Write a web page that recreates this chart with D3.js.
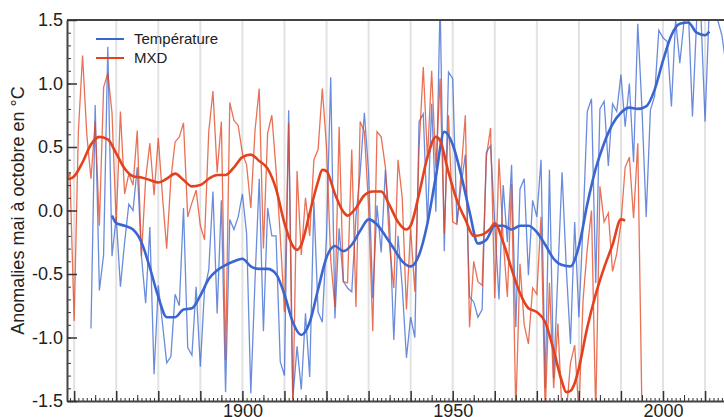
<!DOCTYPE html>
<html>
<head>
<meta charset="utf-8">
<title>Température / MXD</title>
<style>
    html, body { margin: 0; padding: 0; background: #fff; }
    text { font-family: "Liberation Sans", Arial, sans-serif; fill: #222; }
</style>
</head>
<body>
<script src="https://cdn.jsdelivr.net/npm/d3@7"></script>
<script>
// temperature, annual anomalies 1864-2015
var tempStart = 1864;
var tempValues = [
    -0.93, 0.83, -0.63, -0.35, 1.29, -0.36, -0.05, -0.6, -0.25, 0.05,
    0.0, 0.34, -0.36, -0.73, -0.13, -1.29, -0.59, -0.89, -1.2, -1.15,
    -0.66, -0.75, 0.02, -1.08, -1.14, -0.6, -1.23, -0.62, -0.47, 0.15,
    -0.81, 0.08, -1.43, -0.07, -0.15, -0.05, 0.13, -0.18, -1.44, -0.55,
    0.25, -0.95, 0.02, -0.2, -0.2, -1.19, -1.3, 0.79, -1.48, -1.07,
    -1.41, -0.81, -1.31, 0.07, -0.8, -0.88, -0.2, 1.05, -0.85, -0.14,
    -0.56, -0.61, -0.64, -0.05, 0.3, 0.77, 0.3, -0.69, 0.04, -0.33,
    0.32, -0.1, -1.02, -0.2, -0.6, -1.16, -0.84, -1.0, 0.7, 0.76,
    -0.1, 0.84, -0.01, 1.65, -0.32, 1.09, 1.04, -0.1, 0.2, 0.44,
    -0.68, -0.72, -0.84, -0.78, 0.46, 0.51, -0.1, -0.7, 0.2, -0.25,
    0.36, -0.92, 0.17, 0.25, -0.51, 0.08, -0.05, 0.4, -1.4, 0.32,
    -1.32, -0.5, 0.3, -0.45, -1.05, -0.09, -0.84, -0.1, 0.78, 0.88,
    -0.57, 0.8, 0.86, 0.35, 0.84, 0.78, 1.07, 0.66, 1.0, 0.38,
    1.47, 0.8, -0.05, 0.79, 0.9, 1.42, 1.36, 1.33, 0.82, 1.5,
    1.16, 1.49, 1.6, 0.74, 1.5, 1.55, 0.7, 1.6, 1.55, 1.5,
    1.38, 1.14
];

// MXD, annual anomalies 1858-1995
var mxdStart = 1858;
var mxdValues = [
    0.24, 0.29, -0.87, 0.62, 1.22, 0.6, 0.25, 0.7, -0.12, 0.97,
    1.08, 0.77, -0.1, 0.78, 0.13, 0.29, 0.2, 0.63, -0.36, 0.25,
    0.53, 0.12, 0.57, 0.11, -0.3, 0.25, 0.54, 0.58, 0.69, -0.05,
    0.06, 0.16, -0.12, -0.23, 0.62, 0.94, 0.3, 0.7, -1.18, 0.85,
    0.71, 0.67, 0.45, 0.36, 0.02, 0.63, 0.96, -0.3, 0.61, 0.75,
    0.32, -0.2, -0.8, 0.69, -1.6, 0.31, -0.35, 0.1, -0.2, 0.4,
    0.48, 0.96, 0.5, -0.39, -0.76, 0.66, -0.56, -0.57, 0.48, -0.76,
    0.7, 0.62, 0.03, -0.95, 0.62, 0.58, 0.34, -0.29, -0.61, 0.4,
    0.1, -0.78, -0.14, -0.64, 0.49, 1.13, 0.41, 1.1, 0.33, 1.04,
    -0.18, 0.75, -0.09, -0.11, 0.3, 0.75, -0.92, -0.4, -0.56, -0.59,
    0.42, 0.65, -0.69, 0.41, -0.23, -0.68, 0.21, -1.6, -0.42, -0.9,
    -1.05, -0.61, -0.66, -0.05, -1.6, -0.57, -1.4, -0.89, -1.6, -1.6,
    -1.2, -1.06, -1.6, -0.7, -0.3, 0.0, -1.6, 0.19, -0.09, -0.02,
    -0.48, -0.34, -0.1, 0.34, 0.42, -0.06, 0.53, -1.6
];

// smoothed curves
var tempSmoothYears = [1869, 1870, 1872, 1874, 1876, 1878, 1880, 1882, 1884, 1886,
    1888, 1890, 1892, 1894, 1896, 1898, 1900, 1902, 1904, 1906,
    1908, 1910, 1912, 1914, 1916, 1918, 1920, 1922, 1924, 1926,
    1928, 1930, 1932, 1934, 1936, 1938, 1940, 1942, 1944, 1946,
    1948, 1950, 1952, 1954, 1956, 1958, 1960, 1962, 1964, 1966,
    1968, 1970, 1972, 1974, 1976, 1978, 1980, 1982, 1984, 1986,
    1988, 1990, 1992, 1994, 1996, 1998, 2000, 2002, 2004, 2006,
    2008, 2010, 2011];
var tempSmooth = [-0.04, -0.1, -0.12, -0.15, -0.25, -0.45, -0.68, -0.84, -0.84, -0.78,
    -0.77, -0.67, -0.54, -0.47, -0.43, -0.4, -0.38, -0.44, -0.46, -0.46,
    -0.5, -0.66, -0.88, -0.98, -0.88, -0.62, -0.37, -0.28, -0.32, -0.27,
    -0.16, -0.07, -0.11, -0.2, -0.3, -0.4, -0.44, -0.35, -0.1, 0.27,
    0.62, 0.52, 0.28, -0.01, -0.26, -0.23, -0.12, -0.12, -0.15, -0.12,
    -0.12, -0.17, -0.27, -0.38, -0.43, -0.44, -0.28, 0.05, 0.33, 0.53,
    0.68, 0.77, 0.81, 0.8, 0.82, 0.95, 1.18, 1.38, 1.47, 1.48,
    1.4, 1.38, 1.41];

var mxdSmoothYears = [1858, 1859, 1860, 1862, 1864, 1866, 1868, 1870, 1872, 1874,
    1876, 1878, 1880, 1882, 1884, 1886, 1888, 1890, 1892, 1894,
    1896, 1898, 1900, 1902, 1904, 1906, 1908, 1910, 1912, 1913,
    1914, 1916, 1918, 1919, 1920, 1922, 1924, 1925, 1927, 1929,
    1931, 1933, 1935, 1937, 1939, 1940, 1942, 1944, 1946, 1947,
    1949, 1951, 1953, 1955, 1957, 1959, 1960, 1962, 1964, 1966,
    1968, 1970, 1972, 1974, 1976, 1977, 1978, 1979, 1980, 1982,
    1984, 1986, 1988, 1990, 1991];
var mxdSmooth = [0.25, 0.25, 0.27, 0.38, 0.52, 0.58, 0.56, 0.45, 0.33, 0.27,
    0.26, 0.24, 0.22, 0.25, 0.29, 0.24, 0.19, 0.2, 0.25, 0.28,
    0.28, 0.34, 0.42, 0.44, 0.39, 0.33, 0.17, -0.1, -0.28, -0.31,
    -0.27, -0.02, 0.23, 0.32, 0.31, 0.13, -0.01, -0.04, 0.02, 0.12,
    0.15, 0.15, 0.04, -0.09, -0.15, -0.12, 0.13, 0.42, 0.58, 0.55,
    0.3, 0.08, -0.07, -0.2, -0.19, -0.14, -0.1, -0.25, -0.46, -0.65,
    -0.77, -0.8, -0.88, -1.1, -1.35, -1.43, -1.42, -1.36, -1.24, -0.92,
    -0.66, -0.45, -0.27, -0.07, -0.08];

var yTicks = [-1.5, -1.0, -0.5, 0.0, 0.5, 1.0, 1.5];
var xLabelYears = [1900, 1950, 2000];
var seriesNames = ["Température", "MXD"];

var blue = "#3a66d0";
var red = "#e2421d";

var width = 724, height = 417;
var mLeft = 67, mTop = 20, mBottom = 401;

var svg = d3.select("body").append("svg")
    .attr("width", width)
    .attr("height", height);

var x = d3.scaleLinear().domain([1858.3, 2014.5]).range([mLeft, width]);
var y = d3.scaleLinear().domain([-1.5, 1.5]).range([mBottom, mTop]);

svg.append("defs").append("clipPath").attr("id", "plot")
    .append("rect")
    .attr("x", mLeft).attr("y", mTop)
    .attr("width", width - mLeft).attr("height", mBottom - mTop);

// decade grid
svg.append("g").selectAll("line")
    .data(d3.range(1860, 2015, 10))
    .enter().append("line")
    .attr("x1", d => x(d)).attr("x2", d => x(d))
    .attr("y1", mTop).attr("y2", mBottom)
    .attr("stroke", "#e2e2e2")
    .attr("stroke-width", 2);

function toPoints(start, vals) {
    return vals.map((v, i) => [start + i, v]);
}
function zip(years, vals) {
    return years.map((yr, i) => [yr, vals[i]]);
}

var line = d3.line().x(d => x(d[0])).y(d => y(d[1]));
var smoothLine = d3.line().x(d => x(d[0])).y(d => y(d[1])).curve(d3.curveMonotoneX);

var plot = svg.append("g").attr("clip-path", "url(#plot)");

plot.append("path")
    .datum(toPoints(tempStart, tempValues))
    .attr("d", line)
    .attr("fill", "none")
    .attr("stroke", blue)
    .attr("stroke-opacity", 0.75)
    .attr("stroke-width", 1.3);

plot.append("path")
    .datum(toPoints(mxdStart, mxdValues))
    .attr("d", line)
    .attr("fill", "none")
    .attr("stroke", red)
    .attr("stroke-opacity", 0.75)
    .attr("stroke-width", 1.3);

plot.append("path")
    .datum(zip(tempSmoothYears, tempSmooth))
    .attr("d", smoothLine)
    .attr("fill", "none")
    .attr("stroke", blue)
    .attr("stroke-width", 2.6);

plot.append("path")
    .datum(zip(mxdSmoothYears, mxdSmooth))
    .attr("d", smoothLine)
    .attr("fill", "none")
    .attr("stroke", red)
    .attr("stroke-width", 2.6);

// top frame line
svg.append("line")
    .attr("x1", mLeft).attr("x2", width)
    .attr("y1", mTop).attr("y2", mTop)
    .attr("stroke", "#444").attr("stroke-width", 2);

// x axis: year, 5-year and decade ticks
svg.append("g")
    .attr("transform", "translate(0," + mBottom + ")")
    .call(d3.axisBottom(x).tickValues(d3.range(1859, 2015)).tickSize(-3).tickFormat(""))
    .call(g => g.select(".domain").remove())
    .call(g => g.selectAll("line").attr("stroke", "#333"));

svg.append("g")
    .attr("transform", "translate(0," + mBottom + ")")
    .call(d3.axisBottom(x).tickValues(d3.range(1865, 2015, 10)).tickSize(-6).tickFormat(""))
    .call(g => g.select(".domain").remove())
    .call(g => g.selectAll("line").attr("stroke", "#333"));

var xAxis = svg.append("g")
    .attr("transform", "translate(0," + mBottom + ")")
    .call(d3.axisBottom(x)
        .tickValues(d3.range(1860, 2015, 10))
        .tickSizeInner(-10).tickSizeOuter(0).tickPadding(3)
        .tickFormat(d => xLabelYears.indexOf(d) >= 0 ? d : ""));
xAxis.select(".domain").attr("stroke", "#444").attr("stroke-width", 2);
xAxis.selectAll(".tick line").attr("stroke", "#333").attr("stroke-width", 1.5);
xAxis.selectAll("text").attr("font-size", 18).attr("fill", "#222")
    .style("font-family", "'Liberation Sans', Arial, sans-serif");

// y axis
svg.append("g")
    .attr("transform", "translate(" + mLeft + ",0)")
    .call(d3.axisLeft(y).tickValues(d3.range(-15, 16).map(d => d / 10)).tickSize(-4).tickFormat(""))
    .call(g => g.select(".domain").remove())
    .call(g => g.selectAll("line").attr("stroke", "#333"));

var yAxis = svg.append("g")
    .attr("transform", "translate(" + mLeft + ",0)")
    .call(d3.axisLeft(y)
        .tickValues(yTicks)
        .tickSizeInner(-10).tickSizeOuter(0).tickPadding(4)
        .tickFormat(d => d.toFixed(1)));
yAxis.select(".domain").attr("stroke", "#444").attr("stroke-width", 2);
yAxis.selectAll(".tick line").attr("stroke", "#333").attr("stroke-width", 1.5);
yAxis.selectAll("text").attr("font-size", 18).attr("fill", "#222")
    .style("font-family", "'Liberation Sans', Arial, sans-serif");

svg.append("text")
    .attr("transform", "translate(24," + ((mTop + mBottom) / 2) + ") rotate(-90)")
    .attr("text-anchor", "middle")
    .attr("font-size", 18)
    .text("Anomalies mai à octobre en °C");

// legend
var legend = svg.append("g").selectAll("g")
    .data(seriesNames)
    .enter().append("g")
    .attr("transform", (d, i) => "translate(96," + (39 + i * 19) + ")");
legend.append("line")
    .attr("x1", 0).attr("x2", 28)
    .attr("stroke", (d, i) => i === 0 ? blue : red)
    .attr("stroke-width", 2);
legend.append("text")
    .attr("x", 38).attr("dy", "0.35em")
    .attr("font-size", 15)
    .text(d => d);
</script>
</body>
</html>
